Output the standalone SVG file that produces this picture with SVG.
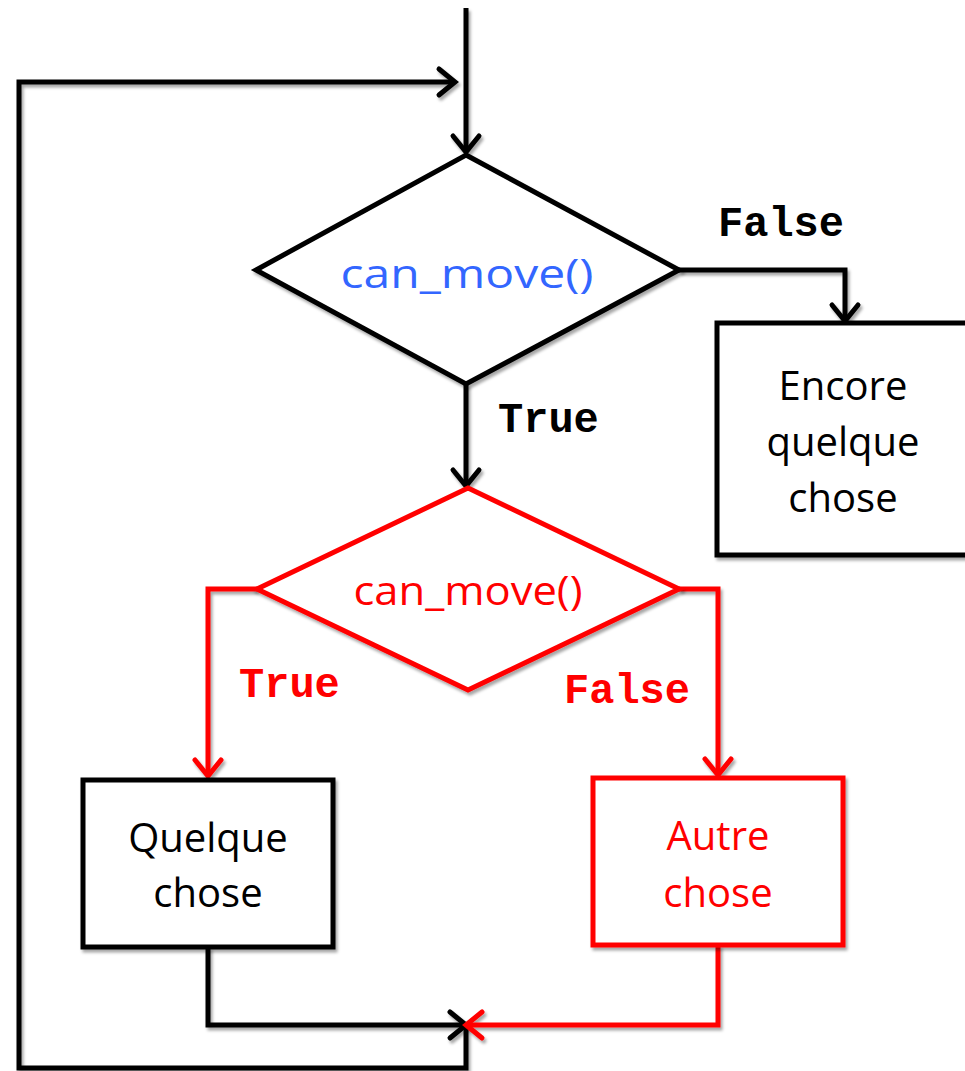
<svg xmlns="http://www.w3.org/2000/svg" width="965" height="1071" viewBox="0 0 965 1071">
  <defs>
    <filter id="shadow" filterUnits="userSpaceOnUse" x="0" y="0" width="965" height="1071">
      <feDropShadow dx="2" dy="3" stdDeviation="1.5" flood-color="#000" flood-opacity="0.35"/>
    </filter>
    <marker id="arrow-black" viewBox="-22 -18 28 36" refX="0" refY="0" markerWidth="28" markerHeight="36" markerUnits="userSpaceOnUse" orient="auto" overflow="visible">
      <path d="M-16,-13 L0,0 L-16,13" fill="none" stroke="#000" stroke-width="5" stroke-linecap="round" stroke-linejoin="miter"/>
    </marker>
    <marker id="arrow-red" viewBox="-22 -18 28 36" refX="0" refY="0" markerWidth="28" markerHeight="36" markerUnits="userSpaceOnUse" orient="auto" overflow="visible">
      <path d="M-16,-13 L0,0 L-16,13" fill="none" stroke="#FF0000" stroke-width="5" stroke-linecap="round" stroke-linejoin="miter"/>
    </marker>
  </defs>
  <style>
    .shape { fill: #fff; stroke-width: 5; stroke-linejoin: miter; filter: url(#shadow); }
    .black { stroke: #000; }
    .red { stroke: #FF0000; }
    .wire { fill: none; stroke-width: 5; stroke-linejoin: miter; filter: url(#shadow); }
    .label { font-family: "Open Sans", "Noto Sans", sans-serif; font-size: 40px; text-anchor: middle; }
    .code { font-family: "Liberation Mono", "Courier New", monospace; font-weight: bold; font-size: 42px; }
  </style>

  <rect width="965" height="1071" fill="#fff"/>

  <!-- connectors -->
  <g id="connectors">
    <path class="wire black" d="M466,8 L466,152" marker-end="url(#arrow-black)"/>
    <path class="wire black" d="M466,1025 L466,1068 L19,1068 L19,82 L455,82" marker-end="url(#arrow-black)"/>
    <path class="wire black" d="M679,270 L845,270 L845,321" marker-end="url(#arrow-black)"/>
    <path class="wire black" d="M466,384 L466,486" marker-end="url(#arrow-black)"/>
    <path class="wire red" d="M257,589 L208,589 L208,776" marker-end="url(#arrow-red)"/>
    <path class="wire red" d="M679,589 L718,589 L718,775" marker-end="url(#arrow-red)"/>
    <path class="wire black" d="M208,947 L208,1025 L466,1025" marker-end="url(#arrow-black)"/>
    <path class="wire red" d="M718,945 L718,1025 L466,1025" marker-end="url(#arrow-red)"/>
    <text class="code" x="718" y="236" fill="#000">False</text>
    <text class="code" x="498" y="432" fill="#000">True</text>
    <text class="code" x="239" y="697" fill="#FF0000">True</text>
    <text class="code" x="564" y="703" fill="#FF0000">False</text>
  </g>

  <!-- outer test -->
  <g id="decision-outer">
    <polygon class="shape black" points="466,155 679,270 466,384 256,270"/>
    <text class="label" x="467" y="288" font-size="46" fill="#3366FF" textLength="253" lengthAdjust="spacingAndGlyphs">can_move()</text>
  </g>

  <!-- inner test -->
  <g id="decision-inner">
    <polygon class="shape red" points="468,488 679,589 468,690 257,589"/>
    <text class="label" x="468" y="605" font-size="42" fill="#FF0000" textLength="229" lengthAdjust="spacingAndGlyphs">can_move()</text>
  </g>

  <g id="box-encore">
    <rect class="shape black" x="717" y="323" width="260" height="232"/>
    <text class="label" x="843" y="400" fill="#000">Encore</text>
    <text class="label" x="843" y="456" fill="#000">quelque</text>
    <text class="label" x="843" y="512" fill="#000">chose</text>
  </g>

  <g id="box-quelque">
    <rect class="shape black" x="83" y="780" width="250" height="167"/>
    <text class="label" x="208" y="852" fill="#000">Quelque</text>
    <text class="label" x="208" y="907" fill="#000">chose</text>
  </g>

  <g id="box-autre">
    <rect class="shape red" x="593" y="778" width="250" height="167"/>
    <text class="label" x="718" y="850" fill="#FF0000">Autre</text>
    <text class="label" x="718" y="907" fill="#FF0000">chose</text>
  </g>
</svg>
